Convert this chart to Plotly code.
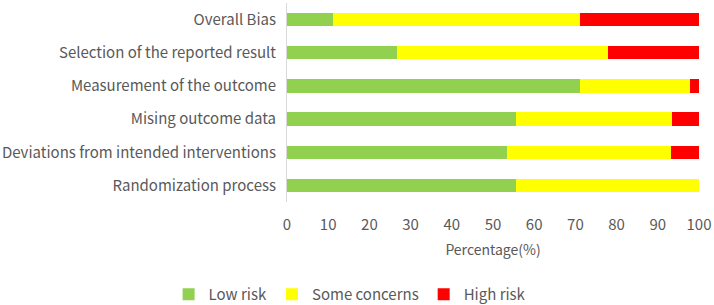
import plotly.graph_objects as go

categories = ["Randomization process", "Deviations from intended interventions",
              "Mising outcome data", "Measurement of the outcome",
              "Selection of the reported result", "Overall Bias"]
low_risk = [55.6, 53.3, 55.6, 71.1, 26.7, 11.1]
some_concerns = [44.4, 40.0, 37.8, 26.7, 51.1, 60.0]
high_risk = [0.0, 6.7, 6.7, 2.2, 22.2, 28.9]
x_ticks = [0, 10, 20, 30, 40, 50, 60, 70, 80, 90, 100]

FONT = "Noto Sans CJK KR"
GREY = "#595959"

fig = go.Figure()
for name, vals, col in [("Low risk", low_risk, "#92d050"),
                        ("Some concerns", some_concerns, "#ffff00"),
                        ("High risk", high_risk, "#ff0000")]:
    fig.add_trace(go.Bar(y=categories, x=vals, name=name, orientation="h",
                         marker=dict(color=col, line=dict(width=0))))

fig.update_layout(
    barmode="stack",
    bargap=0.6,
    width=714, height=305,
    margin=dict(l=287, r=15, t=3, b=103, autoexpand=False),
    plot_bgcolor="white", paper_bgcolor="white",
    font=dict(family=FONT, size=15, color=GREY),
    xaxis=dict(range=[0, 100], tickvals=x_ticks, showgrid=False, zeroline=False,
               showline=False, ticks="", ticklabelstandoff=12, automargin=False,
               tickfont=dict(size=15, color=GREY),
               title=dict(text="Percentage(%)", font=dict(size=14, color=GREY), standoff=12)),
    yaxis=dict(showgrid=False, zeroline=False, showline=True, linecolor="#d9d9d9",
               linewidth=1, ticks="", ticklabelstandoff=7, automargin=False,
               tickfont=dict(size=15, color=GREY)),
    legend=dict(orientation="h", x=0.152, xanchor="center", y=-0.465, yanchor="middle",
                font=dict(size=15, color=GREY), traceorder="normal", itemwidth=30),
)

fig.write_html("out.html", config={"displayModeBar": False},
               post_script="document.body.style.margin='0';")
